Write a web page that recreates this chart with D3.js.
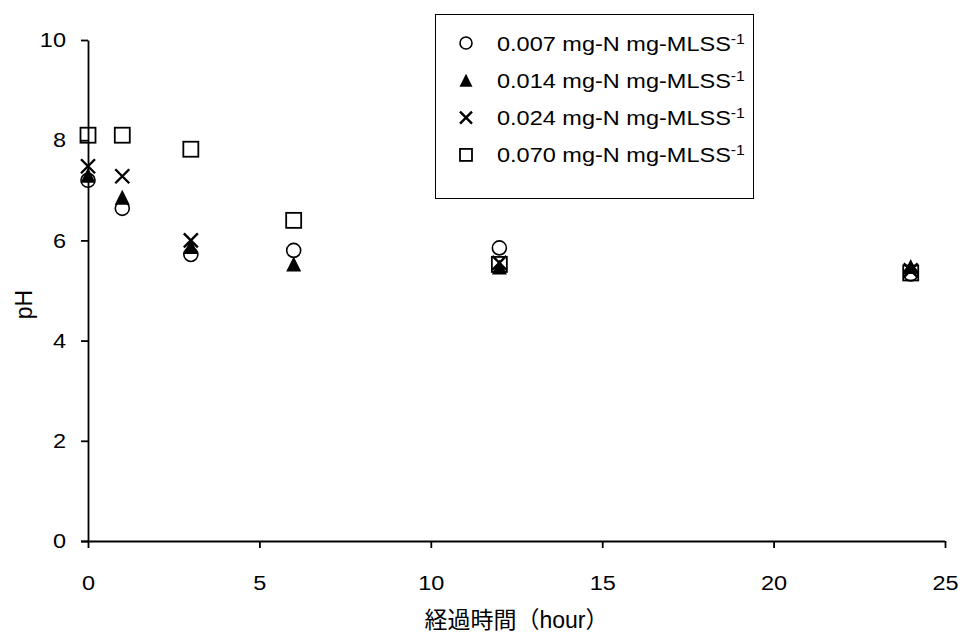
<!DOCTYPE html>
<html>
<head>
<meta charset="utf-8">
<script src="https://cdn.jsdelivr.net/npm/d3@7"></script>
<style>
  body { margin: 0; background: #fff; }
  svg text { font-family: "Liberation Sans", Arial, "Noto Sans CJK JP", sans-serif; fill: #000; }
  .axis path, .axis line { stroke: #000; stroke-width: 1.8; }
</style>
</head>
<body>
<div id="chart"></div>
<script>
// elapsed time (hour)
var hours = [0, 1, 3, 6, 12, 24];

// pH per loading rate
var ph007 = [7.2, 6.64, 5.72, 5.8, 5.85, 5.33];
var ph014 = [7.3, 6.86, 5.88, 5.53, 5.47, 5.48];
var ph024 = [7.48, 7.28, 6.0, null, 5.55, 5.4];
var ph070 = [8.1, 8.1, 7.82, 6.4, 5.52, 5.35];

var seriesNames = [
  "0.007 mg-N mg-MLSS",
  "0.014 mg-N mg-MLSS",
  "0.024 mg-N mg-MLSS",
  "0.070 mg-N mg-MLSS"
];
var markers = ["circle", "triangle", "cross", "square"];

var xTicks = [0, 5, 10, 15, 20, 25];
var yTicks = [0, 2, 4, 6, 8, 10];

var fullWidth = 962, fullHeight = 636;
var margin = {top: 40, right: 17, bottom: 95, left: 88},
    width = fullWidth - margin.left - margin.right,
    height = fullHeight - margin.top - margin.bottom;

// text in the original is a bit wider than tall
var stretch = 1.12;

var xScale = d3.scaleLinear().domain([0, 25]).range([0, width]);
var yScale = d3.scaleLinear().domain([0, 10]).range([height, 0]);

var svg = d3.select("#chart").append("svg")
    .attr("width", fullWidth)
    .attr("height", fullHeight)
  .append("g")
    .attr("transform", "translate(" + margin.left + "," + margin.top + ")");

// axes
var xAxis = d3.axisBottom(xScale).tickValues(xTicks).tickSize(7).tickSizeOuter(0).tickPadding(27);
var yAxis = d3.axisLeft(yScale).tickValues(yTicks).tickSize(7).tickSizeOuter(0);

svg.append("g")
    .attr("class", "x axis")
    .attr("transform", "translate(0," + height + ")")
    .call(xAxis)
    .selectAll("text")
    .style("font-size", "21px")
    .attr("transform", "scale(" + stretch + ",1)");

svg.append("g")
    .attr("class", "y axis")
    .call(yAxis)
    .selectAll("text")
    .style("font-size", "21px")
    .attr("x", -22 / stretch)
    .attr("transform", "scale(" + stretch + ",1)");

svg.selectAll(".x.axis path").attr("d", "M-7,0.5H" + width);

// axis titles
svg.append("text")
    .attr("x", width / 2)
    .attr("y", height + 87)
    .attr("text-anchor", "middle")
    .style("font-size", "23px")
    .text("経過時間（hour）");

svg.append("text")
    .attr("transform", "translate(-56," + (height / 2 + 14) + ") rotate(-90)")
    .attr("text-anchor", "middle")
    .style("font-size", "23px")
    .text("pH");

// marker drawing
function drawMarker(g, type, size) {
  var r = size / 2;
  if (type === "circle") {
    g.append("circle").attr("r", r).attr("fill", "none").attr("stroke", "#000").attr("stroke-width", 1.6);
  } else if (type === "triangle") {
    g.append("path")
      .attr("d", "M0," + (-r) + "L" + r + "," + r + "L" + (-r) + "," + r + "Z")
      .attr("fill", "#000");
  } else if (type === "cross") {
    g.append("path")
      .attr("d", "M" + (-r) + "," + (-r) + "L" + r + "," + r + "M" + r + "," + (-r) + "L" + (-r) + "," + r)
      .attr("stroke", "#000").attr("stroke-width", 2.4).attr("fill", "none");
  } else {
    g.append("rect").attr("x", -r).attr("y", -r).attr("width", size).attr("height", size)
      .attr("fill", "none").attr("stroke", "#000").attr("stroke-width", 1.8);
  }
}

var allSeries = [ph007, ph014, ph024, ph070];
var markerSize = [14, 15, 14, 15];

allSeries.forEach(function (vals, i) {
  var pts = hours.map(function (h, j) { return {x: h, y: vals[j]}; })
    .filter(function (d) { return d.y != null; });
  svg.selectAll(".pt" + i)
    .data(pts)
    .enter().append("g")
    .attr("class", "pt" + i)
    .attr("transform", function (d) { return "translate(" + xScale(d.x) + "," + yScale(d.y) + ")"; })
    .each(function () { drawMarker(d3.select(this), markers[i], markerSize[i]); });
});

// legend
var legend = d3.select("svg").append("g").attr("transform", "translate(435,14)");
legend.append("rect")
    .attr("x", 0.5).attr("y", 0.5)
    .attr("width", 318).attr("height", 184)
    .attr("fill", "#fff").attr("stroke", "#000").attr("stroke-width", 1);

var rows = legend.selectAll(".row")
    .data(seriesNames)
    .enter().append("g")
    .attr("class", "row")
    .attr("transform", function (d, i) { return "translate(0," + (29 + i * 37.3) + ")"; });

var legendSize = [12, 13, 12, 12];
rows.each(function (d, i) {
  var g = d3.select(this).append("g").attr("transform", "translate(31,0)");
  drawMarker(g, markers[i], legendSize[i]);
});

var txt = rows.append("g")
    .attr("transform", "translate(62,7.5) scale(" + stretch + ",1)")
  .append("text")
    .style("font-size", "21px");
txt.append("tspan").text(function (d) { return d; });
txt.append("tspan")
    .attr("dy", -7)
    .style("font-size", "14px")
    .text("-1");
</script>
</body>
</html>
